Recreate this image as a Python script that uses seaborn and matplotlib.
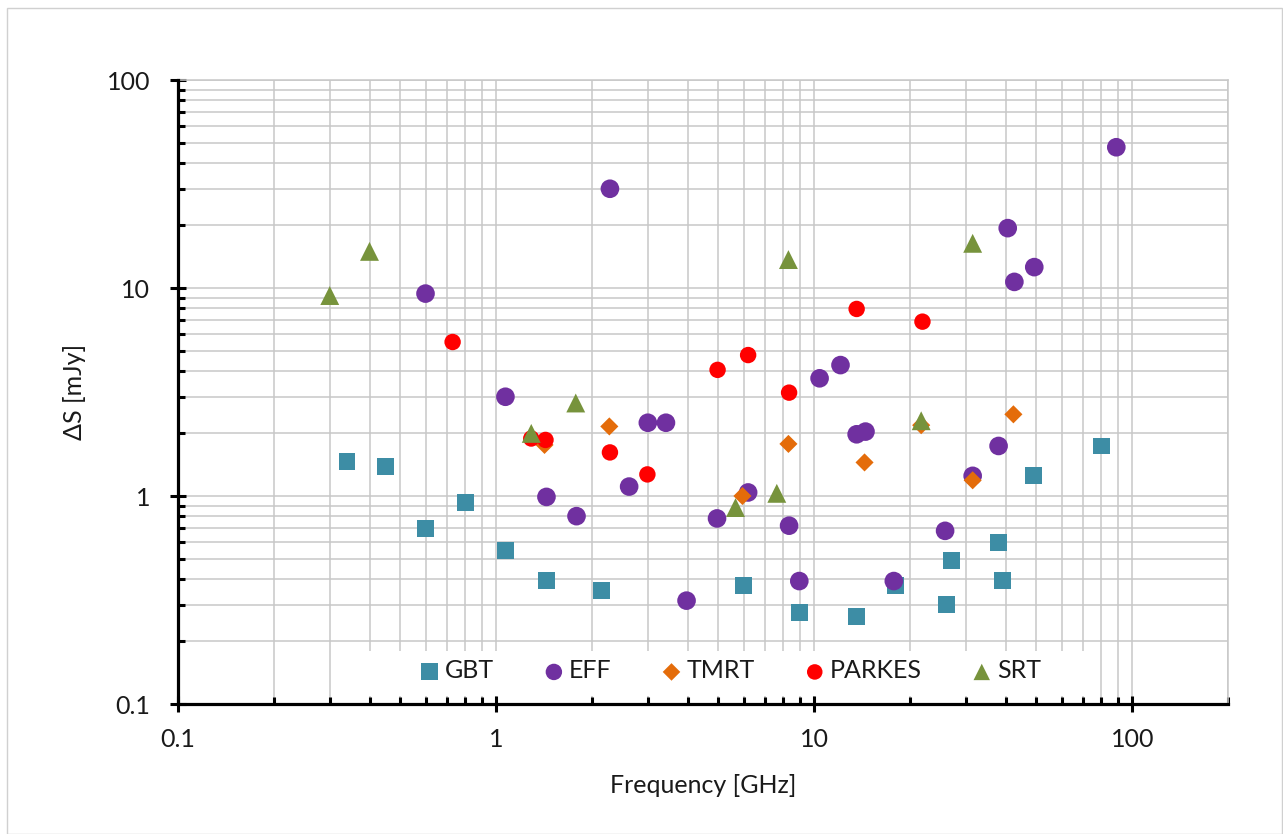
import matplotlib
matplotlib.use("Agg")
import matplotlib.pyplot as plt
import seaborn as sns
from matplotlib.ticker import FixedLocator, NullFormatter, FixedFormatter
from matplotlib.patches import Rectangle

# ---- data ----
gbt_freq = [0.34, 0.45, 0.6, 0.8, 1.07, 1.44, 2.15, 6.0, 9.0, 13.6, 18.0, 26.0, 27.0, 38.0, 39.0, 49.0, 80.0]
gbt_ds = [1.47, 1.39, 0.70, 0.93, 0.545, 0.393, 0.35, 0.37, 0.275, 0.263, 0.37, 0.30, 0.49, 0.60, 0.393, 1.25, 1.74]

eff_freq = [0.6, 1.07, 1.44, 1.79, 2.28, 2.62, 3.0, 3.42, 3.97, 4.95, 6.2, 8.34, 8.98, 10.4, 12.1,
            13.6, 14.5, 17.8, 25.8, 31.5, 38.0, 40.6, 42.6, 49.2, 89.1]
eff_ds = [9.4, 3.0, 0.99, 0.80, 30.0, 1.11, 2.25, 2.25, 0.314, 0.78, 1.04, 0.72, 0.39, 3.68, 4.26,
          1.98, 2.04, 0.39, 0.68, 1.25, 1.74, 19.4, 10.7, 12.6, 47.5]

tmrt_freq = [1.42, 2.27, 5.95, 8.3, 14.4, 21.7, 31.5, 42.3]
tmrt_ds = [1.76, 2.16, 1.0, 1.78, 1.45, 2.19, 1.19, 2.47]

parkes_freq = [0.73, 1.29, 1.43, 2.28, 2.99, 4.97, 6.2, 8.34, 13.6, 21.9]
parkes_ds = [5.5, 1.89, 1.86, 1.62, 1.27, 4.04, 4.76, 3.14, 7.93, 6.89]

srt_freq = [0.3, 0.4, 1.29, 1.78, 5.66, 7.63, 8.3, 21.7, 31.5]
srt_ds = [9.2, 15.0, 2.0, 2.8, 0.88, 1.03, 13.7, 2.3, 16.4]

series_names = ["GBT", "EFF", "TMRT", "PARKES", "SRT"]
major_ticks = [0.1, 1, 10, 100]
major_labels = ["0.1", "1", "10", "100"]

# ---- style ----
sns.set_theme(style="white")
plt.rcParams["font.family"] = ["Lato", "DejaVu Sans"]
FS = 18
TXT = "#1a1a1a"

fig = plt.figure(figsize=(12.83, 8.34), dpi=100)
fig.patch.set_facecolor("white")
fig.add_artist(Rectangle((7 / 1283, 0), 1 - 7 / 1283 - 0.0005, 1 - 8 / 834, transform=fig.transFigure,
                         facecolor="none", edgecolor="#d0d0d0", linewidth=1.0))
ax = fig.add_axes([178 / 1283, 1 - 704 / 834, 1050 / 1283, 624 / 834])

styles = {
    "GBT": dict(marker="s", color="#3D8DA5", s=145),
    "EFF": dict(marker="o", color="#7030A0", s=180),
    "TMRT": dict(marker="D", color="#E46C0A", s=85),
    "PARKES": dict(marker="o", color="#FF0000", s=140),
    "SRT": dict(marker="^", color="#77933C", s=185),
}
data = {
    "GBT": (gbt_freq, gbt_ds),
    "EFF": (eff_freq, eff_ds),
    "TMRT": (tmrt_freq, tmrt_ds),
    "PARKES": (parkes_freq, parkes_ds),
    "SRT": (srt_freq, srt_ds),
}
for i, name in enumerate(series_names):
    xs, ys = data[name]
    st = styles[name]
    sns.scatterplot(x=xs, y=ys, marker=st["marker"], color=st["color"], s=st["s"],
                    edgecolor="none", linewidth=0, label=name, ax=ax, zorder=2 + i * 0.01)

ax.set_xscale("log")
ax.set_yscale("log")
ax.set_xlim(0.1, 200)
ax.set_ylim(0.1, 100)

minor_x = [m * d for d in (0.1, 1, 10) for m in range(2, 10)] + [200]
minor_y = [m * d for d in (0.1, 1, 10) for m in range(2, 10)]
ax.xaxis.set_major_locator(FixedLocator(major_ticks))
ax.xaxis.set_major_formatter(FixedFormatter(major_labels))
ax.xaxis.set_minor_locator(FixedLocator(minor_x))
ax.xaxis.set_minor_formatter(NullFormatter())
ax.yaxis.set_major_locator(FixedLocator(major_ticks))
ax.yaxis.set_major_formatter(FixedFormatter(major_labels))
ax.yaxis.set_minor_locator(FixedLocator(minor_y))
ax.yaxis.set_minor_formatter(NullFormatter())

ax.set_axisbelow(True)
ax.grid(True, which="both", color="#c8c8c8", linewidth=1.1)

for side in ("left", "bottom"):
    ax.spines[side].set_color("black")
    ax.spines[side].set_linewidth(2.3)
    ax.spines[side].set_zorder(5)
for side in ("top", "right"):
    ax.spines[side].set_color("#c8c8c8")
    ax.spines[side].set_linewidth(1.1)

ax.tick_params(which="major", direction="inout", length=12, width=2.2, color="black",
               labelsize=FS, labelcolor=TXT)
ax.tick_params(axis="y", which="major", pad=14)
ax.tick_params(axis="x", which="major", pad=11)
ax.tick_params(which="minor", direction="in", length=5, width=2.2, color="black")
ax.tick_params(bottom=True, left=True, top=False, right=False, which="both")

ax.set_xlabel("Frequency [GHz]", fontsize=FS, color=TXT)
ax.set_ylabel("\u0394S [mJy]", fontsize=FS, color=TXT)
ax.xaxis.set_label_coords(0.5, -0.112)
ax.yaxis.set_label_coords(-0.088, 0.5)

# white legend area
ax.add_patch(Rectangle(((352 - 178) / 1050, (704 - 696) / 624), (1090 - 352) / 1050, (696 - 651) / 624,
                       transform=ax.transAxes, facecolor="white", edgecolor="none", zorder=1))

handles, labels = ax.get_legend_handles_labels()
leg = ax.legend(handles, labels, loc="center", bbox_to_anchor=((729 - 178) / 1050, (704 - 671) / 624),
                ncol=5, frameon=False, fontsize=FS, handletextpad=0.1, columnspacing=1.9,
                handlelength=1.0, borderpad=0.2)
leg_sizes = [150, 140, 80, 125, 140]
for h, sz in zip(leg.legend_handles, leg_sizes):
    h.set_sizes([sz])
for t in leg.get_texts():
    t.set_color(TXT)

fig.savefig("out.png", dpi=100, facecolor="white")
